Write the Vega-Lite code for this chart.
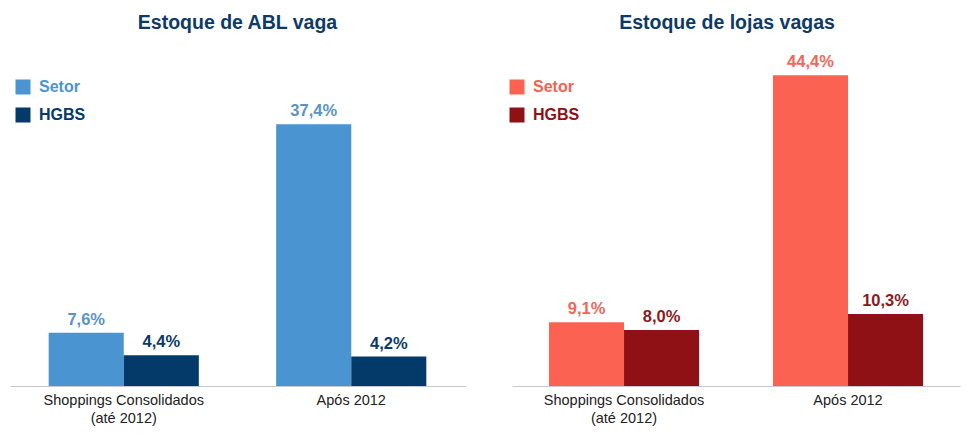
{
  "$schema": "https://vega.github.io/schema/vega-lite/v6.json",
  "autosize": {"type": "pad"},
  "padding": {"left": 10, "top": 13, "right": 5, "bottom": 5},
  "background": "white",
  "datasets": {
    "abl": [
      {"grupo": "Shoppings Consolidados (até 2012)", "serie": "Setor", "valor": 7.6},
      {"grupo": "Shoppings Consolidados (até 2012)", "serie": "HGBS", "valor": 4.4},
      {"grupo": "Após 2012", "serie": "Setor", "valor": 37.4},
      {"grupo": "Após 2012", "serie": "HGBS", "valor": 4.2}
    ],
    "lojas": [
      {"grupo": "Shoppings Consolidados (até 2012)", "serie": "Setor", "valor": 9.1},
      {"grupo": "Shoppings Consolidados (até 2012)", "serie": "HGBS", "valor": 8.0},
      {"grupo": "Após 2012", "serie": "Setor", "valor": 44.4},
      {"grupo": "Após 2012", "serie": "HGBS", "valor": 10.3}
    ]
  },
  "config": {
    "view": {"stroke": null},
    "font": "Liberation Sans",
    "concat": {"spacing": 44},
    "title": {"fontSize": 19.5, "fontWeight": "bold", "color": "#0d3a66", "offset": 2.5, "anchor": "middle"},
    "axisX": {
      "title": null, "labelAngle": 0, "ticks": false, "domainColor": "#c8c8d2", "domainWidth": 1,
      "labelFontSize": 14.5, "labelColor": "#222222", "labelPadding": 7, "labelLineHeight": 18,
      "labelExpr": "datum.value == 'Shoppings Consolidados (até 2012)' ? ['Shoppings Consolidados', '(até 2012)'] : datum.value"
    }
  },
  "resolve": {"scale": {"color": "independent"}},
  "hconcat": [
    {
      "width": 455, "height": 350,
      "data": {"name": "abl"},
      "title": {"text": "Estoque de ABL vaga"},
      "transform": [{"calculate": "replace(format(datum.valor, '.1f'), '.', ',') + '%'", "as": "rotulo"}],
      "encoding": {
        "x": {"field": "grupo", "type": "nominal", "sort": ["Shoppings Consolidados (até 2012)", "Após 2012"], "scale": {"paddingInner": 0.34, "paddingOuter": 0.17}},
        "xOffset": {"field": "serie", "type": "nominal", "sort": ["Setor", "HGBS"], "scale": {"paddingInner": 0, "paddingOuter": 0}},
        "y": {"field": "valor", "type": "quantitative", "scale": {"domain": [0, 50]}, "axis": null}
      },
      "layer": [
        {
          "mark": {"type": "bar"},
          "encoding": {
            "color": {
              "field": "serie", "type": "nominal",
              "scale": {"domain": ["Setor", "HGBS"], "range": ["#4a95d1", "#033a69"]},
              "legend": {
                "title": null, "orient": "none", "legendX": 5, "legendY": 43,
                "symbolType": "square", "symbolSize": 225, "symbolStrokeWidth": 0,
                "labelFontSize": 16, "labelFontWeight": "bold", "rowPadding": 12, "labelOffset": 8,
                "encode": {"labels": {"update": {"fill": {"signal": "datum.value == 'Setor' ? '#4a95d1' : '#033a69'"}}}}
              }
            }
          }
        },
        {
          "mark": {"type": "text", "dy": -8, "baseline": "alphabetic", "fontSize": 16.5, "fontWeight": "bold"},
          "encoding": {
            "text": {"field": "rotulo"},
            "color": {"condition": {"test": "datum.serie == 'Setor'", "value": "#5a93c9"}, "value": "#0b3a69"}
          }
        }
      ]
    },
    {
      "width": 448, "height": 350,
      "data": {"name": "lojas"},
      "title": {"text": "Estoque de lojas vagas", "dx": -9},
      "transform": [{"calculate": "replace(format(datum.valor, '.1f'), '.', ',') + '%'", "as": "rotulo"}],
      "encoding": {
        "x": {"field": "grupo", "type": "nominal", "sort": ["Shoppings Consolidados (até 2012)", "Após 2012"], "scale": {"paddingInner": 0.33, "paddingOuter": 0.165}},
        "xOffset": {"field": "serie", "type": "nominal", "sort": ["Setor", "HGBS"], "scale": {"paddingInner": 0, "paddingOuter": 0}},
        "y": {"field": "valor", "type": "quantitative", "scale": {"domain": [0, 50]}, "axis": null}
      },
      "layer": [
        {
          "mark": {"type": "bar"},
          "encoding": {
            "color": {
              "field": "serie", "type": "nominal",
              "scale": {"domain": ["Setor", "HGBS"], "range": ["#fb6251", "#8f1116"]},
              "legend": {
                "title": null, "orient": "none", "legendX": -3, "legendY": 43,
                "symbolType": "square", "symbolSize": 225, "symbolStrokeWidth": 0,
                "labelFontSize": 16, "labelFontWeight": "bold", "rowPadding": 12, "labelOffset": 8,
                "encode": {"labels": {"update": {"fill": {"signal": "datum.value == 'Setor' ? '#f4624f' : '#8f1116'"}}}}
              }
            }
          }
        },
        {
          "mark": {"type": "text", "dy": -8, "baseline": "alphabetic", "fontSize": 16.5, "fontWeight": "bold"},
          "encoding": {
            "text": {"field": "rotulo"},
            "color": {"condition": {"test": "datum.serie == 'Setor'", "value": "#f2665a"}, "value": "#8c1a1c"}
          }
        }
      ]
    }
  ]
}
